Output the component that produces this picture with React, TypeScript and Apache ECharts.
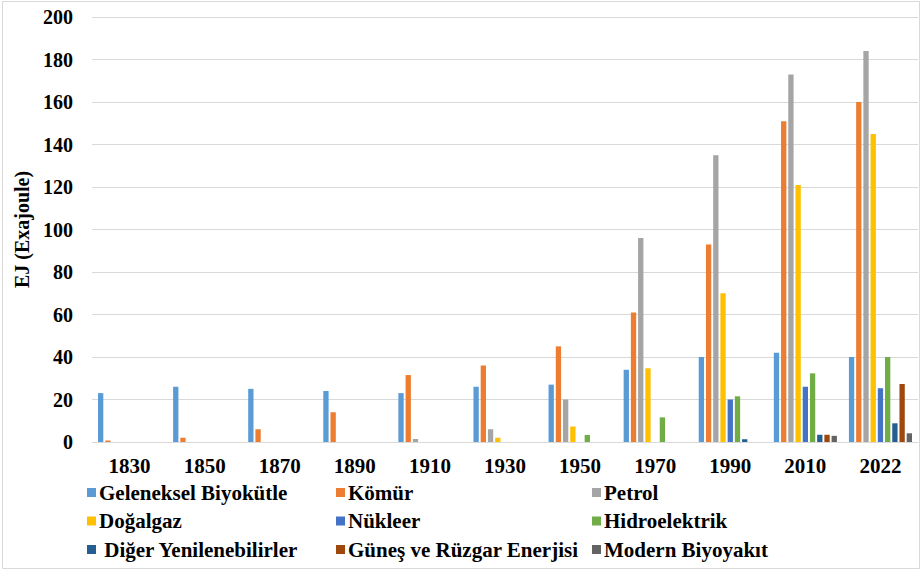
import React, { useEffect, useRef } from "react";
import * as echarts from "echarts";

const years = ["1830", "1850", "1870", "1890", "1910", "1930", "1950", "1970", "1990", "2010", "2022"];

const geleneksel = [23, 26, 25, 24, 23, 26, 27, 34, 40, 42, 40];
const komur = [0.7, 2, 6, 14, 31.5, 36, 45, 61, 93, 151, 160];
const petrol = [null, null, null, null, 1.4, 6, 20, 96, 135, 173, 184];
const dogalgaz = [null, null, null, null, null, 2, 7.3, 34.7, 70, 121, 145];
const nukleer = [null, null, null, null, null, null, null, null, 20, 26, 25.3];
const hidro = [null, null, null, null, null, null, 3.3, 11.6, 21.5, 32.3, 40];
const diger = [null, null, null, null, null, null, null, null, 1.3, 3.4, 8.8];
const gunes = [null, null, null, null, null, null, null, null, null, 3.4, 27.3];
const modern = [null, null, null, null, null, null, null, null, null, 2.9, 4.1];

const seriesDefs = [
  { name: "Geleneksel Biyokütle", data: geleneksel, color: "#5B9BD5" },
  { name: "Kömür", data: komur, color: "#ED7D31" },
  { name: "Petrol", data: petrol, color: "#A5A5A5" },
  { name: "Doğalgaz", data: dogalgaz, color: "#FFC000" },
  { name: "Nükleer", data: nukleer, color: "#4472C4" },
  { name: "Hidroelektrik", data: hidro, color: "#70AD47" },
  { name: " Diğer Yenilenebilirler", data: diger, color: "#255E91" },
  { name: "Güneş ve Rüzgar Enerjisi", data: gunes, color: "#9E480E" },
  { name: "Modern Biyoyakıt", data: modern, color: "#636363" },
];

const legendCols = [
  ["Geleneksel Biyokütle", "Doğalgaz", " Diğer Yenilenebilirler"],
  ["Kömür", "Nükleer", "Güneş ve Rüzgar Enerjisi"],
  ["Petrol", "Hidroelektrik", "Modern Biyoyakıt"],
];
const legendLefts = [87, 336, 592];

const FONT = "Times New Roman, Liberation Serif, serif";

export default function App() {
  const ref = useRef<HTMLDivElement>(null);
  useEffect(() => {
    if (!ref.current) return;
    const chart = echarts.init(ref.current, null, { renderer: "svg" });
    chart.setOption({
      animation: false,
      backgroundColor: "#ffffff",
      textStyle: { fontFamily: FONT },
      grid: { left: 92, right: 5, top: 17, bottom: 131 },
      legend: legendCols.map((col, i) => ({
        data: col,
        orient: "vertical",
        left: legendLefts[i],
        top: 482,
        icon: "rect",
        itemWidth: 9,
        itemHeight: 9,
        itemGap: 7.5,
        padding: 0,
        selectedMode: false,
        textStyle: {
          fontFamily: FONT,
          fontWeight: "bold",
          fontSize: 21,
          lineHeight: 21,
          color: "#000",
          padding: [0, 0, 0, -2],
        },
      })),
      xAxis: {
        type: "category",
        data: years,
        axisLine: { show: true, lineStyle: { color: "#d9d9d9" } },
        axisTick: { show: false },
        axisLabel: {
          fontFamily: FONT,
          fontWeight: "bold",
          fontSize: 21,
          color: "#000",
          margin: 13,
        },
      },
      yAxis: {
        type: "value",
        min: 0,
        max: 200,
        interval: 20,
        name: "EJ (Exajoule)",
        nameLocation: "middle",
        nameGap: 46,
        nameTextStyle: {
          fontFamily: FONT,
          fontWeight: "bold",
          fontSize: 20,
          color: "#000",
        },
        axisLine: { show: false },
        axisTick: { show: false },
        splitLine: { lineStyle: { color: "#d9d9d9" } },
        axisLabel: {
          fontFamily: FONT,
          fontWeight: "bold",
          fontSize: 20,
          color: "#000",
          margin: 19,
        },
      },
      graphic: [
        {
          type: "rect",
          shape: { x: 2.5, y: 1.5, width: 917, height: 567 },
          style: { fill: "none", stroke: "#d9d9d9", lineWidth: 1 },
          silent: true,
        },
      ],
      series: seriesDefs.map((s) => ({
        type: "bar",
        name: s.name,
        data: s.data,
        barGap: "36%",
        barCategoryGap: "16%",
        itemStyle: { color: s.color },
      })),
    });
    return () => chart.dispose();
  }, []);
  return (
    <div
      ref={ref}
      style={{ position: "fixed", left: 0, top: 0, width: 923, height: 573 }}
    />
  );
}
